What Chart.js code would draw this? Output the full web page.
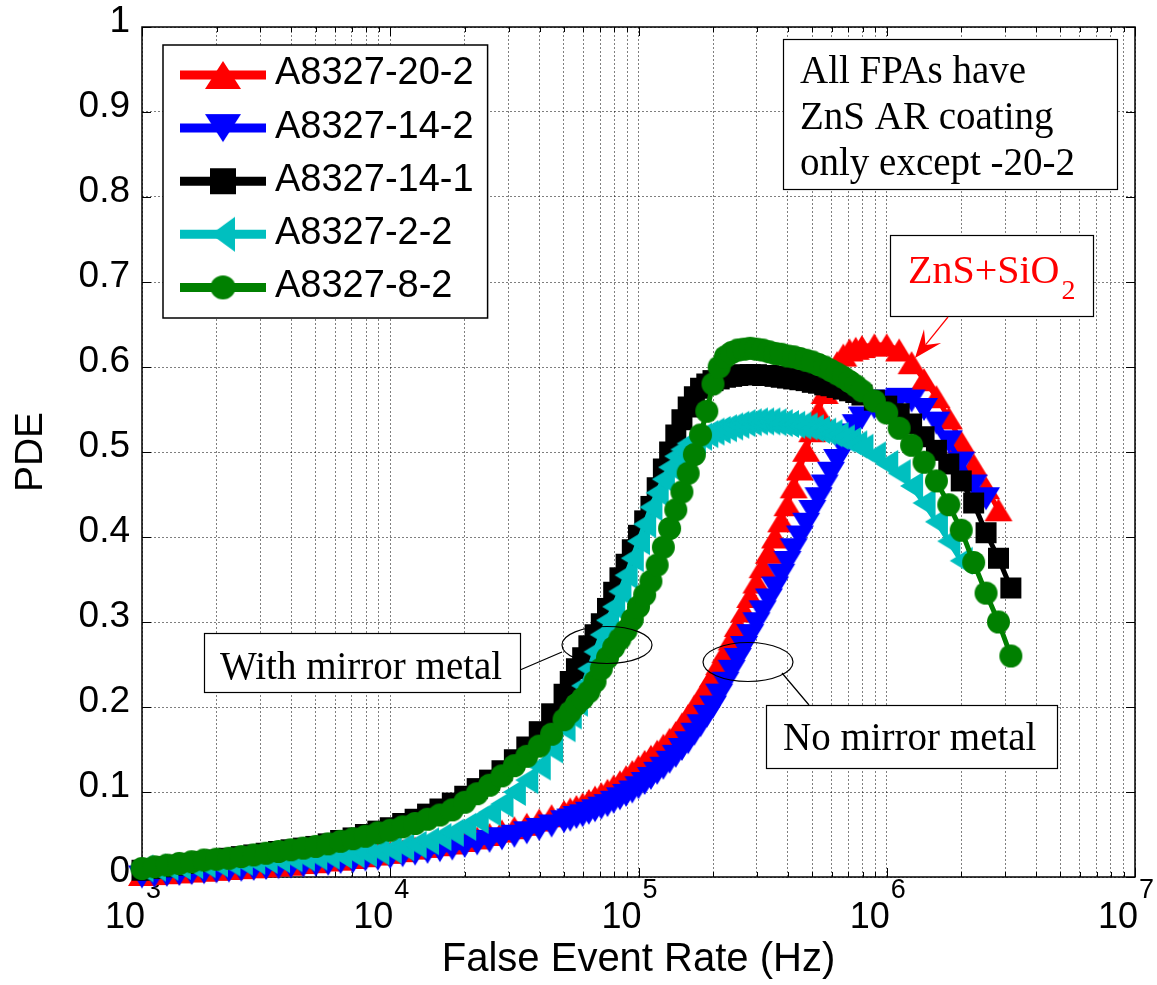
<!DOCTYPE html>
<html lang="en">
<head>
<meta charset="utf-8">
<title>PDE vs False Event Rate</title>
<script src="https://cdn.jsdelivr.net/npm/chart.js@4.4.1/dist/chart.umd.min.js"></script>
<style>
  html, body { margin: 0; padding: 0; background: #ffffff; }
  canvas { display: block; }
</style>
</head>
<body>
<canvas id="chart" width="1157" height="985"></canvas>
<script>
// false event rate (Hz), shared by all five FPAs (finer steps where the curves are steep)
const rates = [
  1000, 1122, 1259, 1413, 1585, 1778, 1995, 2239, 2512, 2818,
  3162, 3548, 3981, 4467, 5012, 5623, 6310, 7079, 7943, 8913,
  10000, 11220, 12590, 14130, 15850, 17780, 19950, 22390, 25120, 28180,
  31620, 35480, 39810, 44670,
  50120, 53090, 56230, 59570, 63100, 66830, 70790, 74990, 79430, 84140,
  89130, 94410, 100000, 105900, 112200, 118900, 125900, 133400, 141300, 149600,
  158500, 167900, 177800, 188400, 199500, 211300, 223900, 237100, 251200, 266100,
  281800, 298500, 316200, 335000, 354800, 375800, 398100, 421700, 446700, 473200,
  501200, 530900, 562300, 595700, 631000, 668300, 707900, 749900, 794300,
  891300, 1000000, 1122000, 1259000, 1413000, 1585000, 1778000, 1995000, 2239000, 2512000,
  2818000, 3162000
];

// PDE (null = no point at that rate)
const pde_20_2 = [
  0.003, 0.004, 0.005, 0.006, 0.007, 0.008, 0.009, 0.010, 0.011, 0.012,
  0.013, 0.014, 0.015, 0.017, 0.018, 0.020, 0.021, 0.023, 0.025, 0.027,
  0.029, 0.031, 0.034, 0.036, 0.038, 0.040, 0.043, 0.046, 0.050, 0.054,
  0.058, 0.062, 0.067, 0.072,
  0.077, 0.080, 0.083, 0.086, 0.090, 0.094, 0.098, 0.102, 0.107, 0.112,
  0.118, 0.124, 0.130, 0.136, 0.142, 0.148, 0.155, 0.162, 0.170, 0.180,
  0.190, 0.201, 0.212, 0.224, 0.237, 0.251, 0.265, 0.280, 0.296, 0.313,
  0.330, 0.347, 0.365, 0.382, 0.400, 0.419, 0.438, 0.459, 0.480, 0.502,
  0.525, 0.548, 0.570, 0.590, 0.605, 0.614, 0.620, 0.622, 0.624,
  0.626, 0.626, 0.620, 0.605, 0.585, 0.565, 0.540, 0.512, 0.485, 0.458,
  0.432, null
];
const pde_14_2 = [
  0.000, 0.001, 0.002, 0.003, 0.004, 0.005, 0.006, 0.007, 0.008, 0.009,
  0.010, 0.011, 0.012, 0.013, 0.014, 0.015, 0.017, 0.018, 0.020, 0.021,
  0.023, 0.025, 0.027, 0.029, 0.031, 0.033, 0.036, 0.039, 0.042, 0.045,
  0.048, 0.052, 0.056, 0.060,
  0.065, 0.067, 0.070, 0.072, 0.075, 0.078, 0.081, 0.084, 0.088, 0.092,
  0.096, 0.100, 0.105, 0.110, 0.116, 0.122, 0.128, 0.135, 0.142, 0.150,
  0.158, 0.168, 0.178, 0.189, 0.200, 0.214, 0.228, 0.242, 0.256, 0.270,
  0.284, 0.298, 0.312, 0.326, 0.340, 0.355, 0.370, 0.385, 0.400, 0.415,
  0.430, 0.445, 0.460, 0.475, 0.490, 0.505, 0.520, 0.531, 0.540,
  0.552, 0.560, 0.562, 0.560, 0.550, 0.534, 0.512, 0.487, 0.460, 0.445,
  null, null
];
const pde_14_1 = [
  0.008, 0.010, 0.012, 0.014, 0.016, 0.018, 0.020, 0.022, 0.024, 0.026,
  0.028, 0.030, 0.032, 0.034, 0.036, 0.039, 0.043, 0.046, 0.050, 0.054,
  0.058, 0.063, 0.068, 0.074, 0.080, 0.087, 0.095, 0.104, 0.114, 0.125,
  0.138, 0.153, 0.171, 0.192,
  0.215, 0.230, 0.245, 0.258, 0.272, 0.285, 0.298, 0.316, 0.335, 0.352,
  0.368, 0.385, 0.402, 0.419, 0.436, 0.458, 0.480, 0.500, 0.520, 0.538,
  0.553, 0.565, 0.575, 0.580, 0.584, 0.586, 0.588, 0.589, 0.590, 0.591,
  0.591, 0.591, 0.590, 0.590, 0.589, 0.588, 0.587, 0.586, 0.585, 0.584,
  0.582, 0.581, 0.579, 0.578, 0.576, 0.574, 0.572, 0.570, 0.567,
  0.561, 0.554, 0.545, 0.533, 0.518, 0.502, 0.486, 0.466, 0.440, 0.405,
  0.375, 0.340
];
const pde_2_2 = [
  0.010, 0.011, 0.012, 0.013, 0.014, 0.015, 0.016, 0.017, 0.018, 0.019,
  0.020, 0.021, 0.022, 0.023, 0.024, 0.025, 0.026, 0.027, 0.028, 0.030,
  0.032, 0.035, 0.038, 0.042, 0.047, 0.052, 0.059, 0.067, 0.076, 0.086,
  0.100, 0.114, 0.130, 0.150,
  0.175, 0.190, 0.205, 0.225, 0.245, 0.265, 0.285, 0.302, 0.318, 0.336,
  0.355, 0.375, 0.395, 0.415, 0.435, 0.452, 0.468, 0.482, 0.495, 0.503,
  0.510, 0.514, 0.518, 0.521, 0.524, 0.526, 0.528, 0.530, 0.532, 0.534,
  0.535, 0.536, 0.536, 0.536, 0.535, 0.534, 0.533, 0.532, 0.531, 0.530,
  0.528, 0.526, 0.524, 0.522, 0.519, 0.516, 0.513, 0.509, 0.505,
  0.496, 0.486, 0.475, 0.460, 0.440, 0.418, 0.395, 0.372, null, null,
  null, null
];
const pde_8_2 = [
  0.010, 0.012, 0.014, 0.016, 0.018, 0.020, 0.021, 0.022, 0.024, 0.026,
  0.028, 0.030, 0.032, 0.034, 0.036, 0.039, 0.042, 0.045, 0.048, 0.052,
  0.055, 0.059, 0.063, 0.068, 0.073, 0.079, 0.088, 0.098, 0.108, 0.119,
  0.131, 0.142, 0.154, 0.168,
  0.185, 0.194, 0.203, 0.210, 0.218, 0.230, 0.245, 0.258, 0.270, 0.280,
  0.290, 0.303, 0.318, 0.332, 0.348, 0.367, 0.388, 0.410, 0.432, 0.453,
  0.475, 0.497, 0.520, 0.548, 0.580, 0.600, 0.612, 0.617, 0.620, 0.621,
  0.622, 0.621, 0.620, 0.618, 0.616, 0.615, 0.613, 0.612, 0.610, 0.608,
  0.606, 0.603, 0.600, 0.596, 0.592, 0.588, 0.583, 0.578, 0.572,
  0.560, 0.546, 0.528, 0.508, 0.488, 0.466, 0.438, 0.408, 0.370, 0.334,
  0.300, 0.260
];

const seriesNames = ["A8327-20-2", "A8327-14-2", "A8327-14-1", "A8327-2-2", "A8327-8-2"];
const seriesColors = ["#ff0000", "#0000ff", "#000000", "#00bfbf", "#008000"];
const seriesShapes = ["up", "down", "square", "left", "circle"];

const yTickLabels = ["0", "0.1", "0.2", "0.3", "0.4", "0.5", "0.6", "0.7", "0.8", "0.9", "1"];
const xDecades = [1e3, 1e4, 1e5, 1e6, 1e7];
const xTickExponents = ["3", "4", "5", "6", "7"];

const SANS = '"Liberation Sans", Arial, Helvetica, sans-serif';
const SERIF = '"Liberation Serif", "Times New Roman", serif';

// filled MATLAB-like markers as small canvases
function markerCanvas(shape, color, base, height) {
  const w = shape === "left" ? height : base;
  const h = shape === "left" ? base : height;
  const c = document.createElement("canvas");
  c.width = Math.ceil(w) + 2;
  c.height = Math.ceil(h) + 2;
  const g = c.getContext("2d");
  const x0 = 1, y0 = 1, x1 = 1 + w, y1 = 1 + h;
  g.fillStyle = color;
  g.beginPath();
  if (shape === "up") {
    g.moveTo((x0 + x1) / 2, y0); g.lineTo(x1, y1); g.lineTo(x0, y1);
  } else if (shape === "down") {
    g.moveTo(x0, y0); g.lineTo(x1, y0); g.lineTo((x0 + x1) / 2, y1);
  } else if (shape === "left") {
    g.moveTo(x0, (y0 + y1) / 2); g.lineTo(x1, y0); g.lineTo(x1, y1);
  } else if (shape === "square") {
    g.rect(x0, y0, w, h);
  } else {
    g.ellipse((x0 + x1) / 2, (y0 + y1) / 2, w / 2, h / 2, 0, 0, Math.PI * 2);
  }
  g.closePath();
  g.fill();
  return c;
}

const plotSize = { up: [28, 23], down: [28, 23], left: [28, 23], square: [21, 21], circle: [23, 23] };
const legendSize = { up: [36, 28], down: [36, 28], left: [35, 24], square: [26, 26], circle: [25, 24] };
const plotMarkers = seriesShapes.map((s, i) => markerCanvas(s, seriesColors[i], plotSize[s][0], plotSize[s][1]));
const legendMarkers = seriesShapes.map((s, i) => markerCanvas(s, seriesColors[i], legendSize[s][0], legendSize[s][1]));

const seriesValues = [pde_20_2, pde_14_2, pde_14_1, pde_2_2, pde_8_2];

const datasets = seriesNames.map((name, i) => ({
  label: name,
  data: rates.map((r, k) => ({ x: r, y: seriesValues[i][k] })).filter(p => p.y !== null),
  borderColor: seriesColors[i],
  backgroundColor: seriesColors[i],
  borderWidth: 5,
  pointStyle: plotMarkers[i],
  pointRadius: 12,
  pointHoverRadius: 12,
  order: seriesNames.length - i, // later series drawn on top, like MATLAB
  clip: false,
  tension: 0
}));

function isDecade(v) {
  const l = Math.log10(v);
  return Math.abs(l - Math.round(l)) < 1e-9;
}

function textBox(ctx, x, y, w, h) {
  ctx.fillStyle = "#ffffff";
  ctx.fillRect(x, y, w, h);
  ctx.strokeStyle = "#000000";
  ctx.lineWidth = 1.2;
  ctx.strokeRect(x + 0.5, y + 0.5, w, h);
}

//frame, inward ticks, decade labels, legend and notes
const decorations = {
  id: "decorations",
  beforeDatasetsDraw(chart) {
    const { ctx, chartArea: a, scales: { x, y } } = chart;
    ctx.save();
    ctx.strokeStyle = "#000000";
    ctx.lineWidth = 1;
    ctx.beginPath();
    x.ticks.forEach(t => {
      const px = Math.round(x.getPixelForValue(t.value)) + 0.5;
      const len = isDecade(t.value) ? 9 : 5;
      ctx.moveTo(px, a.bottom); ctx.lineTo(px, a.bottom - len);
      ctx.moveTo(px, a.top); ctx.lineTo(px, a.top + len);
    });
    y.ticks.forEach(t => {
      const py = Math.round(y.getPixelForValue(t.value)) + 0.5;
      ctx.moveTo(a.left, py); ctx.lineTo(a.left + 9, py);
      ctx.moveTo(a.right, py); ctx.lineTo(a.right - 9, py);
    });
    ctx.stroke();
    ctx.lineWidth = 1.5;
    ctx.strokeRect(a.left, a.top, a.right - a.left, a.bottom - a.top);

    // decade labels 10^n
    ctx.fillStyle = "#000000";
    ctx.textBaseline = "alphabetic";
    xDecades.forEach((v, i) => {
      const px = x.getPixelForValue(v);
      ctx.font = "36px " + SANS;
      ctx.textAlign = "right";
      ctx.fillText("10", px + 3, 928);
      ctx.font = "27px " + SANS;
      ctx.textAlign = "left";
      ctx.fillText(xTickExponents[i], px + 4, 898);
    });
    ctx.restore();
  },
  afterDatasetsDraw(chart) {
    const { ctx } = chart;
    ctx.save();

    // legend
    const lg = { left: 163, top: 45, bottom: 318, firstRow: 75, rowStep: 53.1, lineFrom: 180, lineTo: 266, textX: 275 };
    ctx.font = "38px " + SANS;
    const maxW = Math.max(...seriesNames.map(n => ctx.measureText(n).width));
    const lgWidth = lg.textX + maxW + 14 - lg.left;
    ctx.fillStyle = "#ffffff";
    ctx.fillRect(lg.left, lg.top, lgWidth, lg.bottom - lg.top);
    ctx.strokeStyle = "#000000";
    ctx.lineWidth = 1.5;
    ctx.strokeRect(lg.left, lg.top, lgWidth, lg.bottom - lg.top);
    seriesNames.forEach((name, i) => {
      const ry = lg.firstRow + i * lg.rowStep;
      ctx.strokeStyle = seriesColors[i];
      ctx.lineWidth = 9;
      ctx.beginPath();
      ctx.moveTo(lg.lineFrom, ry);
      ctx.lineTo(lg.lineTo, ry);
      ctx.stroke();
      const m = legendMarkers[i];
      ctx.drawImage(m, (lg.lineFrom + lg.lineTo) / 2 - m.width / 2, ry - m.height / 2);
      ctx.fillStyle = "#000000";
      ctx.textAlign = "left";
      ctx.textBaseline = "middle";
      ctx.fillText(name, lg.textX, ry - 1);
    });

    ctx.textBaseline = "alphabetic";
    ctx.textAlign = "left";

    // coating note
    textBox(ctx, 783, 39, 334, 150);
    ctx.fillStyle = "#000000";
    ctx.font = "39px " + SERIF;
    ["All FPAs have", "ZnS AR coating", "only except -20-2"].forEach((t, i) => {
      ctx.fillText(t, 800, 83 + i * 46);
    });

    // ZnS+SiO2 label with arrow
    textBox(ctx, 890, 235, 203, 81);
    ctx.fillStyle = "#ff0000";
    ctx.font = "40px " + SERIF;
    ctx.fillText("ZnS+SiO", 908, 283);
    const zw = ctx.measureText("ZnS+SiO").width;
    ctx.font = "28px " + SERIF;
    ctx.fillText("2", 908 + zw + 2, 299);

    const tail = [948, 317], tip = [915, 358];
    const dx = tip[0] - tail[0], dy = tip[1] - tail[1];
    const len = Math.hypot(dx, dy);
    const ux = dx / len, uy = dy / len, nx = -uy, ny = ux;
    const L = 28, W = 11;
    ctx.strokeStyle = "#ff0000";
    ctx.lineWidth = 1.2;
    ctx.beginPath();
    ctx.moveTo(tail[0], tail[1]);
    ctx.lineTo(tip[0] - ux * L * 0.6, tip[1] - uy * L * 0.6);
    ctx.stroke();
    ctx.beginPath();
    ctx.moveTo(tip[0], tip[1]);
    ctx.lineTo(tip[0] - ux * L + nx * W, tip[1] - uy * L + ny * W);
    ctx.lineTo(tip[0] - ux * L * 0.6, tip[1] - uy * L * 0.6);
    ctx.lineTo(tip[0] - ux * L - nx * W, tip[1] - uy * L - ny * W);
    ctx.closePath();
    ctx.fillStyle = "#ff0000";
    ctx.fill();

    // mirror metal call-outs
    ctx.strokeStyle = "#000000";
    ctx.lineWidth = 1.2;
    ctx.beginPath();
    ctx.ellipse(607, 645, 45, 18.5, 0, 0, Math.PI * 2);
    ctx.moveTo(520, 670); ctx.lineTo(562, 652);
    ctx.stroke();
    ctx.beginPath();
    ctx.ellipse(748, 662, 45, 19.5, 0, 0, Math.PI * 2);
    ctx.moveTo(782, 673); ctx.lineTo(809, 705);
    ctx.stroke();

    textBox(ctx, 204, 633, 316, 59);
    textBox(ctx, 766, 705, 291, 63);
    ctx.fillStyle = "#000000";
    ctx.font = "39px " + SERIF;
    ctx.fillText("With mirror metal", 220, 679);
    ctx.fillText("No mirror metal", 783, 750);

    ctx.restore();
  }
};

const chart = document.querySelector("#chart").getContext("2d");

new Chart(chart, {
  type: "line",
  data: { datasets: datasets },
  options: {
    responsive: false,
    animation: false,
    events: [],
    layout: { padding: { left: 0, right: 22, top: 27, bottom: 0 } },
    plugins: {
      legend: { display: false },
      tooltip: { enabled: false }
    },
    scales: {
      x: {
        type: "logarithmic",
        min: 1e3,
        max: 1e7,
        grid: { color: "rgba(0,0,0,0.5)", lineWidth: 1, drawTicks: false },
        border: { display: false, dash: [2, 2] },
        ticks: { display: false },
        title: {
          display: true,
          text: "False Event Rate (Hz)",
          color: "#000000",
          font: { family: SANS, size: 40 },
          padding: { top: 0, bottom: 1 }
        },
        afterBuildTicks(scale) {
          const vals = [];
          xDecades.slice(0, -1).forEach(d => {
            for (let m = 1; m < 10; m++) vals.push(m * d);
          });
          vals.push(xDecades[xDecades.length - 1]);
          scale.ticks = vals.map(v => ({ value: v }));
        },
        afterFit(scale) {
          scale.height = 108;
          scale.paddingLeft = 0;
          scale.paddingRight = 0;
        }
      },
      y: {
        min: 0,
        max: 1,
        grid: { color: "rgba(0,0,0,0.5)", lineWidth: 1, drawTicks: false },
        border: { display: false, dash: [2, 2] },
        ticks: {
          stepSize: 0.1,
          padding: 12,
          labelOffset: -5,
          color: "#000000",
          font: { family: SANS, size: 37 },
          callback: (v, i) => yTickLabels[i]
        },
        title: {
          display: true,
          text: "PDE",
          color: "#000000",
          font: { family: SANS, size: 39 },
          padding: { top: 8, bottom: 0 }
        },
        afterFit(scale) {
          scale.width = 142;
          scale.paddingTop = 0;
          scale.paddingBottom = 0;
        }
      }
    }
  },
  plugins: [decorations]
});
</script>
</body>
</html>
